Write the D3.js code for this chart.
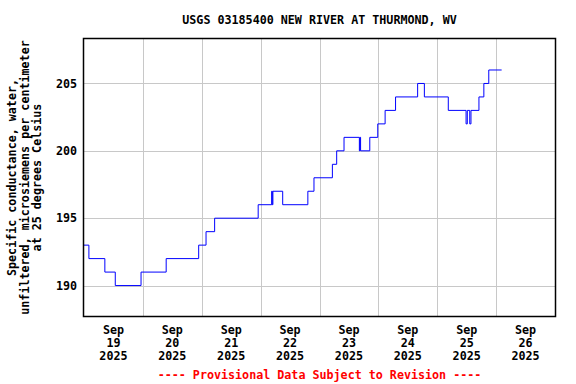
<!DOCTYPE html>
<html>
<head>
<meta charset="utf-8">
<script src="https://cdn.jsdelivr.net/npm/d3@7"></script>
<style>
  html, body { margin: 0; padding: 0; background: #fff; }
  svg { display: block; }
  text { font-family: "DejaVu Sans Mono", monospace; font-weight: bold; font-size: 11.7px; fill: #000; }
</style>
</head>
<body>
<svg id="chart" width="576" height="384"></svg>
<script>
// ---- data ----
const title = "USGS 03185400 NEW RIVER AT THURMOND, WV";
const yTitleLines = ["Specific conductance, water,", "unfiltered, microsiemens per centimeter", "at 25 degrees Celsius"];
const footnote = "---- Provisional Data Subject to Revision ----";

const times = [
  "2025-09-19T00:00","2025-09-19T02:00","2025-09-19T08:30","2025-09-19T12:45","2025-09-19T23:15",
  "2025-09-20T09:30","2025-09-20T22:45","2025-09-21T01:45","2025-09-21T05:15","2025-09-21T23:00",
  "2025-09-22T04:30","2025-09-22T04:45","2025-09-22T05:00","2025-09-22T09:00","2025-09-22T19:15",
  "2025-09-22T21:45","2025-09-23T05:15","2025-09-23T07:00","2025-09-23T10:00","2025-09-23T16:15",
  "2025-09-23T16:30","2025-09-23T16:45","2025-09-23T20:30","2025-09-23T23:45","2025-09-24T02:45",
  "2025-09-24T07:00","2025-09-24T16:00","2025-09-24T18:45","2025-09-25T04:30","2025-09-25T11:45",
  "2025-09-25T12:15","2025-09-25T13:15","2025-09-25T13:45","2025-09-25T17:00","2025-09-25T19:00",
  "2025-09-25T21:00","2025-09-26T02:15"
];
const values = [
  193,192,191,190,191,
  192,193,194,195,196,
  197,196,197,196,197,
  198,199,200,201,200,
  201,200,201,202,203,
  204,205,204,203,202,
  203,202,203,204,205,
  206,206
];
const yTicks = [190, 195, 200, 205];
const dayTickLabels = [
  ["Sep","19","2025"],["Sep","20","2025"],["Sep","21","2025"],["Sep","22","2025"],
  ["Sep","23","2025"],["Sep","24","2025"],["Sep","25","2025"],["Sep","26","2025"]
];
const xStart = "2025-09-19T00:00", xEnd = "2025-09-27T00:00";
const yDomain = [187.74, 208.3];

// ---- drawing ----
const parse = d3.utcParse("%Y-%m-%dT%H:%M");
const data = times.map((t, i) => ({ t: parse(t), v: values[i] }));

const L = 84, R = 555, T = 39, B = 316;
const svg = d3.select("#chart");

const x = d3.scaleUtc().domain([parse(xStart), parse(xEnd)]).range([L, R]);
const y = d3.scaleLinear().domain(yDomain).range([B, T]);

// grid
const days = d3.utcDay.range(parse(xStart), parse(xEnd));
const grid = svg.append("g").attr("stroke", "#c8c8c8").attr("stroke-width", 1).attr("shape-rendering", "crispEdges");
grid.selectAll("line.v").data(days.slice(1)).join("line")
  .attr("x1", d => Math.round(x(d)) + 0.5).attr("x2", d => Math.round(x(d)) + 0.5)
  .attr("y1", T).attr("y2", B);
grid.selectAll("line.h").data(yTicks).join("line")
  .attr("x1", L).attr("x2", R)
  .attr("y1", d => Math.round(y(d)) + 0.5).attr("y2", d => Math.round(y(d)) + 0.5);

// line
const line = d3.line().x(d => x(d.t)).y(d => y(d.v)).curve(d3.curveStepAfter);
svg.append("path").datum(data)
  .attr("fill", "none").attr("stroke", "#0000ff").attr("stroke-width", 1)
  .attr("d", line);

// frame
svg.append("rect").attr("x", L - 0.5).attr("y", T - 0.5).attr("width", R - L + 1).attr("height", B - T + 1)
  .attr("fill", "none").attr("stroke", "#000").attr("stroke-width", 1.5);

// y tick labels
svg.append("g").selectAll("text").data(yTicks).join("text")
  .attr("x", 77).attr("y", d => y(d)).attr("dy", "0.35em").attr("text-anchor", "end")
  .text(d => d);

// x tick labels at noon of each day
const xl = svg.append("g").selectAll("text").data(days).join("text")
  .attr("text-anchor", "middle")
  .attr("transform", d => `translate(${x(d3.utcHour.offset(d, 12))},0)`);
xl.each(function(d, i) {
  const t = d3.select(this);
  dayTickLabels[i].forEach((s, j) => {
    t.append("tspan").attr("x", 0).attr("y", 334 + j * 13).text(s);
  });
});

// title
svg.append("text").attr("x", (L + R) / 2).attr("y", 24).attr("text-anchor", "middle").text(title);

// y-axis title
const yt = svg.append("text").attr("text-anchor", "middle")
  .attr("transform", `translate(0,${(T + B) / 2}) rotate(-90)`);
yTitleLines.forEach((s, j) => {
  yt.append("tspan").attr("x", 0).attr("y", 16 + j * 12.5).text(s);
});

// footnote
svg.append("text").attr("x", (L + R) / 2).attr("y", 379).attr("text-anchor", "middle")
  .style("fill", "#ff0000").text(footnote);
</script>
</body>
</html>
